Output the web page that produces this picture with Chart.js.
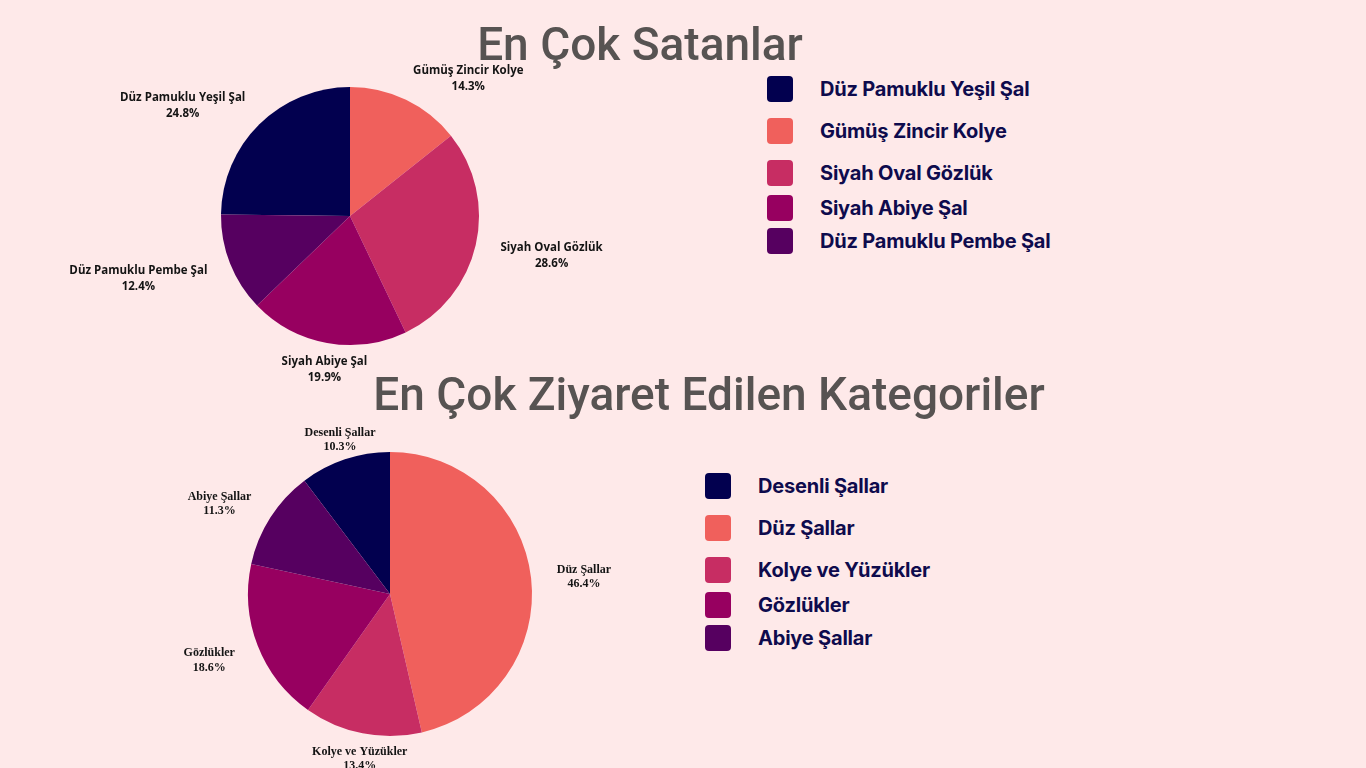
<!DOCTYPE html>
<html>
<head>
<meta charset="utf-8">
<script src="https://cdn.jsdelivr.net/npm/chart.js"></script>
<style>
  html, body { margin:0; padding:0; width:1366px; height:768px; overflow:hidden; background:#FEE9E9; }
  .title { position:absolute; font-family: Roboto, "Liberation Sans", sans-serif; font-weight:500; color:#575352; white-space:nowrap; z-index:5; transform:translateX(-50%); }
  .leg { position:absolute; z-index:5; }
  .leg .item { position:absolute; left:0; display:flex; align-items:center; white-space:nowrap; transform:translateY(-50%); }
  .leg .sw { width:26px; height:26px; border-radius:4px; }
  .leg .tx { font-family: Inter, "Open Sans", sans-serif; font-weight:700; font-size:20px; color:#0E0B4D; letter-spacing:-0.2px; margin-left:27px; }
  canvas { position:absolute; }
</style>
</head>
<body>
<div class="title" id="t1" style="left:640px; top:17px; font-size:46px;">En Çok Satanlar</div>
<div class="title" id="t2" style="left:709px; top:367px; font-size:46px;">En Çok Ziyaret Edilen Kategoriler</div>
<canvas id="c1" width="600" height="420" style="left:50px; top:6px;"></canvas>
<canvas id="c2" width="600" height="360" style="left:90px; top:414px;"></canvas>
<div class="leg" id="leg1" style="left:767px; top:89px;"></div>
<div class="leg" id="leg2" style="left:705px; top:486px;"></div>
<script>
// ---- data ----
const salesLabels = ["Düz Pamuklu Yeşil Şal", "Gümüş Zincir Kolye", "Siyah Oval Gözlük", "Siyah Abiye Şal", "Düz Pamuklu Pembe Şal"];
const salesValues = [24.8, 14.3, 28.6, 19.9, 12.4];
const visitLabels = ["Desenli Şallar", "Düz Şallar", "Kolye ve Yüzükler", "Gözlükler", "Abiye Şallar"];
const visitValues = [10.3, 46.4, 13.4, 18.6, 11.3];
const palette = ["#02004F", "#F0605C", "#C72D63", "#970060", "#560060"];

// ---- layout ----
const legendOffsets = [0, 42, 84, 119, 152];

Chart.defaults.devicePixelRatio = 1;

const outLabels = {
  id: 'outLabels',
  afterDatasetsDraw(chart, args, opts) {
    const ctx = chart.ctx;
    const ds = chart.data.datasets[0];
    const total = ds.data.reduce((a, b) => a + b, 0);
    const meta = chart.getDatasetMeta(0);
    ctx.save();
    ctx.font = opts.font;
    ctx.fillStyle = opts.color;
    ctx.textBaseline = 'middle';
    ctx.textAlign = 'center';
    meta.data.forEach((arc, i) => {
      const p = arc.getProps(['x', 'y', 'startAngle', 'endAngle', 'outerRadius'], true);
      const mid = (p.startAngle + p.endAngle) / 2;
      const dx = Math.cos(mid), dy = Math.sin(mid);
      const off = 14 + 12 * dx * dx;
      const px = p.x + dx * (p.outerRadius + off);
      const py = p.y + dy * (p.outerRadius + off);
      const lines = [chart.data.labels[i], (ds.data[i] / total * 100).toFixed(1) + '%'];
      const lh = opts.lineHeight;
      const h = lh * lines.length;
      const w = Math.max(...lines.map(l => ctx.measureText(l).width));
      let cx = px;
      if (dx > 0.38) cx = px + w / 2;
      else if (dx < -0.38) cx = px - w / 2;
      const cy = py + dy * (h / 2 - 6) + 3;
      lines.forEach((l, k) => {
        ctx.fillText(l, cx, cy - h / 2 + lh * (k + 0.5));
      });
    });
    ctx.restore();
  }
};

function makePie(id, labels, values, rotation, padH, padV, font, lh) {
  return new Chart(document.getElementById(id), {
    type: 'pie',
    data: { labels: labels, datasets: [{ data: values, backgroundColor: palette, borderWidth: 0 }] },
    options: {
      responsive: false,
      animation: false,
      rotation: rotation,
      layout: { padding: { left: padH, right: padH, top: padV, bottom: padV } },
      plugins: {
        legend: { display: false },
        tooltip: { enabled: false },
        outLabels: { font: font, color: '#141414', lineHeight: lh }
      }
    },
    plugins: [outLabels]
  });
}

makePie('c1', salesLabels, salesValues, -salesValues[0] * 3.6, 171, 81, 'bold 11.5px "Open Sans"', 16);
makePie('c2', visitLabels, visitValues, -visitValues[0] * 3.6, 158, 38, 'bold 12px "Liberation Serif"', 14.5);

function buildLegend(id, labels) {
  const el = document.getElementById(id);
  labels.forEach((l, i) => {
    const it = document.createElement('div');
    it.className = 'item';
    it.style.top = legendOffsets[i] + 'px';
    const sw = document.createElement('div');
    sw.className = 'sw';
    sw.style.background = palette[i];
    const tx = document.createElement('div');
    tx.className = 'tx';
    tx.textContent = l;
    it.appendChild(sw); it.appendChild(tx);
    el.appendChild(it);
  });
}
buildLegend('leg1', salesLabels);
buildLegend('leg2', visitLabels);
</script>
</body>
</html>
